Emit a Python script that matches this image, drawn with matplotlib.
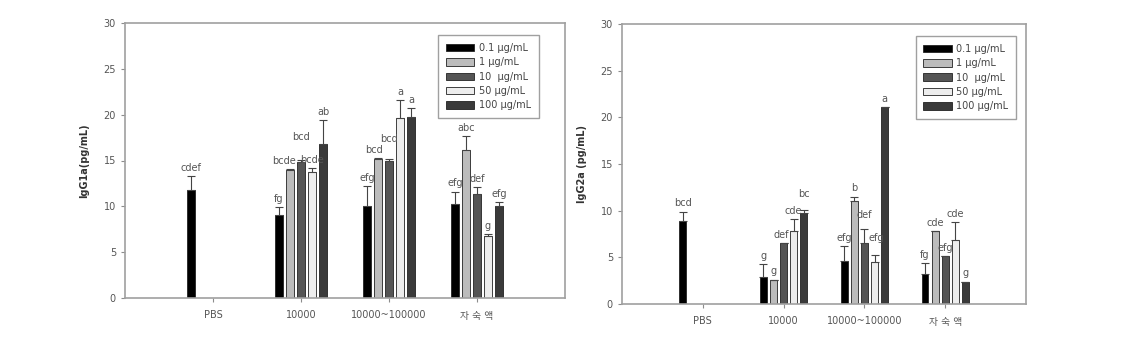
import matplotlib.pyplot as plt
import numpy as np

plt.rcParams['font.family'] = ['DejaVu Sans', 'Noto Sans CJK KR']

groups = ['PBS', '10000', '10000~100000', '자 숙 액']
doses = ['0.1 μg/mL', '1 μg/mL', '10  μg/mL', '50 μg/mL', '100 μg/mL']
colors = ['#000000', '#bcbcbc', '#555555', '#ededed', '#3a3a3a']

# IgG1 values: rows = dose, columns = group (PBS has only the first dose)
igg1 = [[11.8, 9.1, 10.0, 10.3],
        [np.nan, 14.0, 15.2, 16.1],
        [np.nan, 14.8, 14.9, 11.3],
        [np.nan, 13.8, 19.6, 6.8],
        [np.nan, 16.8, 19.7, 10.0]]
igg1_err = [[1.5, 0.8, 2.2, 1.3],
            [0, 0.1, 0.1, 1.6],
            [0, 0.3, 0.3, 0.8],
            [0, 0.4, 2.0, 0.2],
            [0, 2.6, 1.0, 0.5]]
igg1_sig = [['cdef', 'fg', 'efg', 'efg'],
            ['', 'bcde', 'bcd', 'abc'],
            ['', 'bcd', 'bcd', 'def'],
            ['', 'bcde', 'a', 'g'],
            ['', 'ab', 'a', 'efg']]

igg2 = [[8.9, 2.9, 4.6, 3.2],
        [np.nan, 2.6, 11.0, 7.8],
        [np.nan, 6.5, 6.5, 5.1],
        [np.nan, 7.8, 4.5, 6.9],
        [np.nan, 9.8, 21.1, 2.4]]
igg2_err = [[1.0, 1.4, 1.6, 1.2],
            [0, 0.0, 0.5, 0.0],
            [0, 0.0, 1.5, 0.0],
            [0, 1.3, 0.7, 1.9],
            [0, 0.3, 0.0, 0.0]]
igg2_sig = [['bcd', 'g', 'efg', 'fg'],
            ['', 'g', 'b', 'cde'],
            ['', 'def', 'def', 'efg'],
            ['', 'cde', 'efg', 'cde'],
            ['', 'bc', 'a', 'g']]

# small nudges (dx in category units, dy in data units) for crowded letters
igg1_nudge = {(1, 1): (-0.07, 0.0), (2, 1): (0.0, 1.6),
              (1, 2): (-0.05, 0.0), (2, 2): (0.0, 1.3)}
igg2_nudge = {(2, 1): (-0.03, 0.0), (4, 1): (0.0, 0.8),
              (2, 2): (0.0, 0.6), (3, 2): (0.02, 1.0)}

grey = '#8c8c8c'
txt = '#555555'


def draw(ax, vals, errs, sigs, nudge, ylabel, leg_anchor):
    x = np.arange(len(groups))
    step = 0.125
    w = 0.085
    for i in range(len(doses)):
        v = np.array(vals[i], dtype=float)
        e = np.array(errs[i], dtype=float)
        pos = x + (i - 2) * step
        ok = ~np.isnan(v)
        ax.bar(pos[ok], v[ok], w, color=colors[i], edgecolor='#222222',
               linewidth=0.6, label=doses[i], zorder=2)
        ax.errorbar(pos[ok], v[ok], yerr=[np.zeros(ok.sum()), e[ok]],
                    fmt='none', ecolor='#444444', elinewidth=0.8,
                    capsize=3, capthick=0.8, zorder=3)
        for j in np.where(ok)[0]:
            dx, dy = nudge.get((i, j), (0.0, 0.0))
            ax.text(pos[j] + dx, v[j] + e[j] + 0.35 + dy, sigs[i][j],
                    ha='center', va='bottom', fontsize=7, color=txt)
    ax.set_xlim(-1, 4)
    ax.set_ylim(0, 30)
    ax.set_yticks(range(0, 31, 5))
    ax.set_xticks(x)
    ax.set_xticklabels(groups)
    ax.tick_params(axis='both', colors=grey, labelcolor=txt, labelsize=7,
                   length=3, width=0.8)
    ax.tick_params(axis='x', pad=6)
    for sp in ax.spines.values():
        sp.set_color('#a0a0a0')
        sp.set_linewidth(1.2)
    ax.set_ylabel(ylabel, fontsize=7, fontweight='bold', color='#333333',
                  labelpad=10)
    leg = ax.legend(loc='upper right', bbox_to_anchor=leg_anchor,
                    borderaxespad=0, fontsize=7, frameon=True,
                    fancybox=False, handlelength=2.9, handleheight=0.8,
                    labelspacing=0.45, borderpad=0.8, handletextpad=0.5)
    leg.get_frame().set_edgecolor('#888888')
    leg.get_frame().set_linewidth(1.0)
    for t in leg.get_texts():
        t.set_color('#444444')


fig = plt.figure(figsize=(11.43, 3.61), dpi=100)
ax1 = fig.add_axes([125 / 1143, 1 - 298 / 361, 440 / 1143, 275 / 361])
ax2 = fig.add_axes([622 / 1143, 1 - 304 / 361, 404 / 1143, 280 / 361])

draw(ax1, igg1, igg1_err, igg1_sig, igg1_nudge, 'IgG1a(pg/mL)', (0.94, 0.956))
draw(ax2, igg2, igg2_err, igg2_sig, igg2_nudge, 'IgG2a (pg/mL)', (0.976, 0.957))

fig.savefig('out.png', dpi=100)
